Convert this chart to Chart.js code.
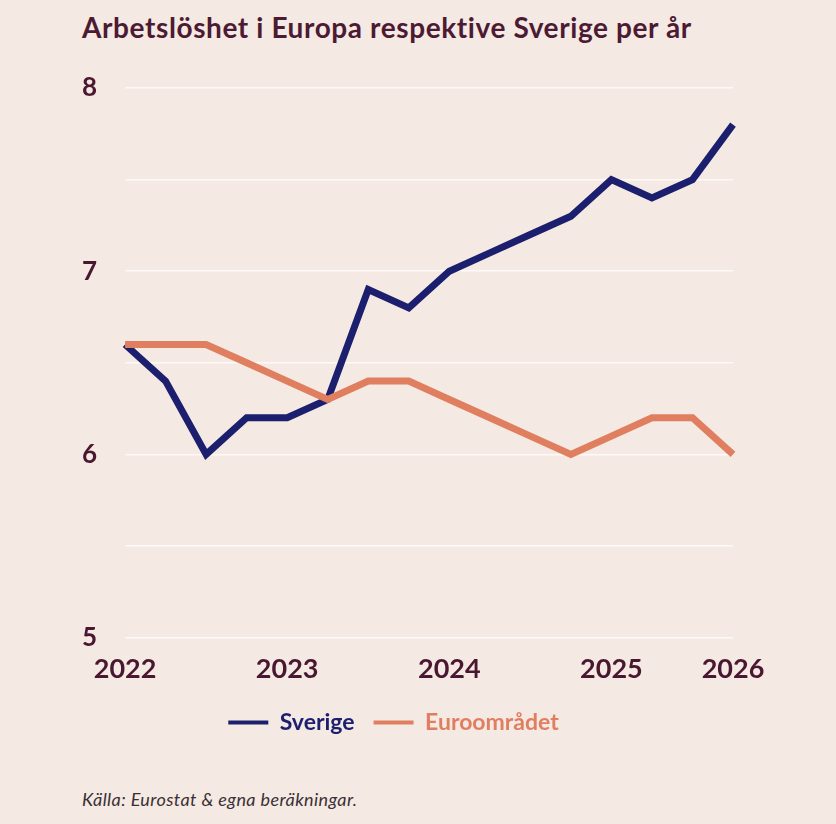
<!DOCTYPE html>
<html>
<head>
<meta charset="utf-8">
<script src="https://cdn.jsdelivr.net/npm/chart.js@4"></script>
<style>
  body { margin: 0; background: #f5e9e4; width: 836px; height: 824px; overflow: hidden; position: relative; }
  #title { position: absolute; left: 82px; top: 10px; font: 700 28px Lato, sans-serif; letter-spacing: 0.6px; color: #4d1a33; }
  #source { position: absolute; left: 82px; top: 788px; font: italic 18px Lato, sans-serif; letter-spacing: 0.4px; color: #3a3034; }
  #wrap { position: absolute; left: 0; top: 0; width: 836px; height: 780px; }
</style>
</head>
<body>
<div id="title">Arbetslöshet i Europa respektive Sverige per år</div>
<div id="wrap"><canvas id="chart"></canvas></div>
<div id="source">Källa: Eurostat &amp; egna beräkningar.</div>
<script>
const labels = ['2022', '', '', '', '2023', '', '', '', '2024', '', '', '', '2025', '', '', '2026'];
const sverige = [6.6, 6.4, 6.0, 6.2, 6.2, 6.3, 6.9, 6.8, 7.0, 7.1, 7.2, 7.3, 7.5, 7.4, 7.5, 7.8];
const euro = [6.6, 6.6, 6.6, 6.5, 6.4, 6.3, 6.4, 6.4, 6.3, 6.2, 6.1, 6.0, 6.1, 6.2, 6.2, 6.0];

const navy = '#1b1f6e';
const orange = '#e07f60';
const maroon = '#4a1730';

new Chart(document.getElementById('chart'), {
  type: 'line',
  data: {
    labels: labels,
    datasets: [
      { label: 'Sverige', data: sverige, borderColor: navy, order: 1 },
      { label: 'Euroområdet', data: euro, borderColor: orange, order: 0 }
    ]
  },
  options: {
    responsive: true,
    maintainAspectRatio: false,
    animation: false,
    layout: { padding: { left: 54, right: 103, top: 88, bottom: 36 } },
    elements: {
      line: { borderWidth: 7, tension: 0, borderJoinStyle: 'miter', borderCapStyle: 'butt' },
      point: { radius: 0 }
    },
    scales: {
      x: {
        grid: { display: false },
        border: { display: false },
        ticks: {
          autoSkip: false, maxRotation: 0, padding: 7,
          color: maroon, font: { family: 'Lato', weight: 'bold', size: 27 }
        }
      },
      y: {
        min: 5, max: 8,
        grid: { color: 'rgba(255,255,255,0.7)', lineWidth: 1.5, drawTicks: false },
        border: { display: false },
        ticks: {
          stepSize: 0.5, padding: 28,
          color: maroon, font: { family: 'Lato', weight: 'bold', size: 26 },
          callback: v => Number.isInteger(v) ? v : ''
        }
      }
    },
    plugins: {
      tooltip: { enabled: false },
      legend: {
        position: 'bottom',
        labels: {
          boxWidth: 40, boxHeight: 4, padding: 19,
          font: { family: 'Lato', weight: 'bold', size: 23 },
          generateLabels: chart => chart.data.datasets.map((ds, i) => ({
            text: ds.label,
            fillStyle: ds.borderColor,
            strokeStyle: ds.borderColor,
            fontColor: ds.borderColor,
            lineWidth: 0,
            datasetIndex: i
          }))
        }
      }
    }
  }
});
</script>
</body>
</html>
